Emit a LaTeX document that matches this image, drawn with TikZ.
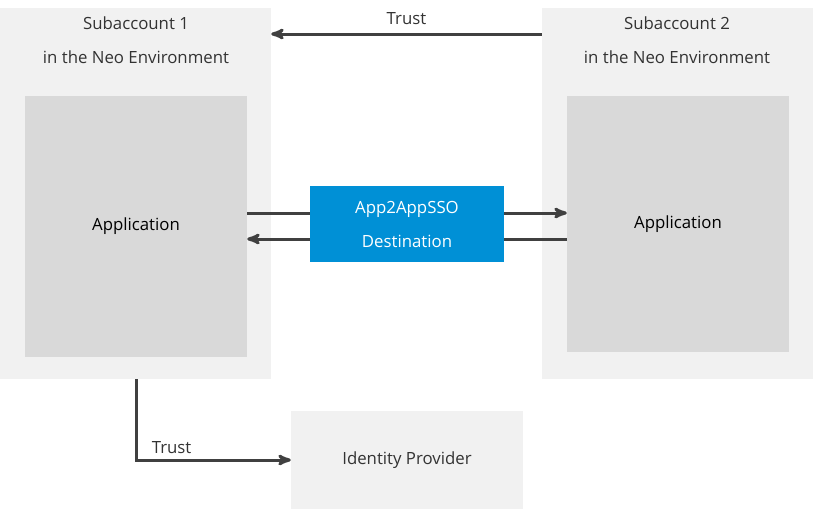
\documentclass[tikz,border=0pt]{standalone}
\usepackage{fontspec}
\setmainfont{Open Sans}
\usetikzlibrary{positioning}
\usetikzlibrary{arrows}

\definecolor{paleGray}{HTML}{F1F1F1}
\definecolor{appGray}{HTML}{D9D9D9}
\definecolor{sapBlue}{HTML}{0090D6}
\definecolor{lineGray}{HTML}{404040}
\definecolor{textGray}{HTML}{333333}

\begin{document}
\begin{tikzpicture}[x=1pt,y=-1pt,>=stealth',
	every node/.style={font=\fontsize{16.8}{34}\selectfont,text=textGray},
	account/.style={fill=paleGray,minimum width=271pt,minimum height=371pt,inner sep=0pt},
	app node/.style={fill=appGray,minimum width=222pt,inner sep=0pt,text=black},
	sso node/.style={fill=sapBlue,minimum width=194pt,minimum height=76pt,inner sep=0pt,text=white,align=center},
	idp node/.style={fill=paleGray,minimum width=232pt,minimum height=98pt,inner sep=0pt},
	link/.style={draw=lineGray,line width=3pt}]

	\useasboundingbox (0,0) rectangle (813,509);

	\node[account] (sub1) at (135.5,193.5) {};
	\node[account] (sub2) at (677.5,193.5) {};
	\node[align=center] (title1) at (136,40) {Subaccount 1\\in the Neo Environment};
	\node[align=center] (title2) at (677,40) {Subaccount 2\\in the Neo Environment};

	\node[app node,minimum height=261pt] (app1) at (136,226.5) {Application};
	\node[app node,minimum height=256pt] (app2) at (678,224) {Application};

	\node[sso node] (sso) at (407,224) {App2AppSSO\\Destination};
	\node[idp node] (idp) at (407,460) {Identity Provider};

	% trust between the subaccounts
	\draw[link,->] (sub2.north west |- 0,34) -- node[above=5pt] {Trust} (sub1.north east |- 0,34);

	% calls through the destination
	\draw[link] (app1.east |- 0,213) -- (sso.west |- 0,213);
	\draw[link,->] (sso.east |- 0,213) -- (app2.west |- 0,213);
	\draw[link] (app2.west |- 0,239) -- (sso.east |- 0,239);
	\draw[link,->] (sso.west |- 0,239) -- (app1.east |- 0,239);

	% trust to the identity provider
	\draw[link,->] (sub1.south -| 136,0) |- node[pos=0.615,above=2pt] {Trust} (idp.west);
\end{tikzpicture}
\end{document}
